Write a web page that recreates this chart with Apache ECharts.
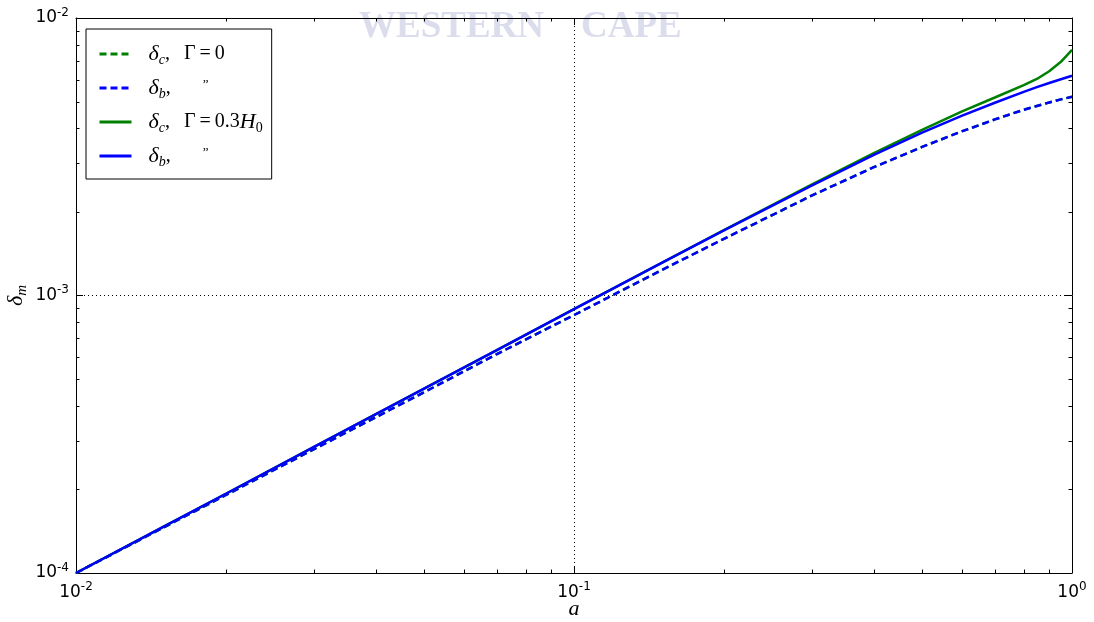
<!DOCTYPE html>
<html>
<head>
<meta charset="utf-8">
<script src="https://cdn.jsdelivr.net/npm/echarts@6/dist/echarts.min.js"></script>
<style>
  html, body { margin: 0; padding: 0; background: #fff; }
  #chart { width: 1094px; height: 622px; }
</style>
</head>
<body>
<div id="chart"></div>
<script>
// scale factor a
const scaleFactor = [0.01, 0.015, 0.02, 0.03, 0.05, 0.07, 0.1, 0.15, 0.2, 0.3, 0.4, 0.5, 0.6, 0.7, 0.8, 0.85, 0.9, 0.95, 1.0];

// density contrasts, no interaction (Γ = 0)
const deltaC0 = [1.00e-4, 1.46e-4, 1.91e-4, 2.79e-4, 4.48e-4, 6.15e-4, 8.50e-4, 1.235e-3, 1.60e-3, 2.29e-3, 2.90e-3, 3.43e-3, 3.90e-3, 4.31e-3, 4.67e-3, 4.82e-3, 4.96e-3, 5.09e-3, 5.20e-3];
const deltaB0 = [1.00e-4, 1.46e-4, 1.91e-4, 2.79e-4, 4.48e-4, 6.15e-4, 8.50e-4, 1.235e-3, 1.60e-3, 2.29e-3, 2.90e-3, 3.43e-3, 3.90e-3, 4.31e-3, 4.67e-3, 4.82e-3, 4.96e-3, 5.09e-3, 5.20e-3];

// density contrasts with decay rate Γ = 0.3 H0
const deltaCG = [1.00e-4, 1.47e-4, 1.93e-4, 2.84e-4, 4.62e-4, 6.36e-4, 8.93e-4, 1.31e-3, 1.72e-3, 2.51e-3, 3.26e-3, 3.95e-3, 4.60e-3, 5.17e-3, 5.73e-3, 6.03e-3, 6.43e-3, 6.95e-3, 7.67e-3];
const deltaBG = [1.00e-4, 1.47e-4, 1.93e-4, 2.84e-4, 4.62e-4, 6.36e-4, 8.93e-4, 1.31e-3, 1.716e-3, 2.49e-3, 3.21e-3, 3.86e-3, 4.44e-3, 4.95e-3, 5.42e-3, 5.635e-3, 5.83e-3, 6.015e-3, 6.19e-3];

const xRange = [0.01, 1];
const yRange = [1e-4, 1e-2];
const xMinorTicks = [0.02, 0.03, 0.04, 0.05, 0.06, 0.07, 0.08, 0.09, 0.2, 0.3, 0.4, 0.5, 0.6, 0.7, 0.8, 0.9];
const yMinorTicks = [2e-4, 3e-4, 4e-4, 5e-4, 6e-4, 7e-4, 8e-4, 9e-4, 2e-3, 3e-3, 4e-3, 5e-3, 6e-3, 7e-3, 8e-3, 9e-3];

const seriesNames = ['dc0', 'db0', 'dcG', 'dbG'];
const legendLabels = [
  '{gap|}{d|δ}{sub|c}{t|,\u2002\u2009Γ\u2009=\u20090}',
  '{gap|}{d|δ}{sub|b}{t|,}{q|”}',
  '{gap|}{d|δ}{sub|c}{t|,\u2002\u2009Γ\u2009=\u20090.3}{d|H}{sub0|0}',
  '{gap|}{d|δ}{sub|b}{t|,}{q|”}'
];

const GREEN = '#008000';
const BLUE = '#0000ff';
const serif = 'Liberation Serif';
const sans = 'DejaVu Sans';

function pairs(ys) {
  return scaleFactor.map((a, i) => [a, ys[i]]);
}

function powLabel(v) {
  return '{b|10}{s|' + Math.round(Math.log10(v)) + '}';
}

const tickRich = {
  b: { fontFamily: sans, fontSize: 17, color: '#000' },
  s: { fontFamily: sans, fontSize: 12, color: '#000', padding: [0, 0, 11, 0] }
};

const chart = echarts.init(document.getElementById('chart'), null, { renderer: 'canvas' });

function baseAxis(extra) {
  return Object.assign({
    type: 'log',
    logBase: 10,
    axisLine: { show: true, onZero: false, lineStyle: { color: '#000', width: 1 } },
    axisTick: { show: true, inside: true, length: 7, lineStyle: { color: '#000', width: 1 } },
    splitLine: { show: false },
    axisLabel: { show: false }
  }, extra);
}

function minorTickSeries(values, isX) {
  return {
    type: 'custom',
    silent: true,
    clip: false,
    z: 5,
    data: values.map(v => isX ? [v, yRange[0]] : [xRange[0], v]),
    renderItem(params, api) {
      const style = { stroke: '#000', lineWidth: 1 };
      let p1, p2, l1, l2;
      if (isX) {
        const v = api.value(0);
        p1 = api.coord([v, yRange[0]]);
        p2 = api.coord([v, yRange[1]]);
        const x = Math.round(p1[0]) + 0.5;
        l1 = { x1: x, y1: p1[1], x2: x, y2: p1[1] - 3.5 };
        l2 = { x1: x, y1: p2[1], x2: x, y2: p2[1] + 3.5 };
      } else {
        const v = api.value(1);
        p1 = api.coord([xRange[0], v]);
        p2 = api.coord([xRange[1], v]);
        const y = Math.round(p1[1]) + 0.5;
        l1 = { x1: p1[0], y1: y, x2: p1[0] + 3.5, y2: y };
        l2 = { x1: p2[0], y1: y, x2: p2[0] - 3.5, y2: y };
      }
      return {
        type: 'group',
        children: [
          { type: 'line', shape: l1, style },
          { type: 'line', shape: l2, style }
        ]
      };
    }
  };
}

function curve(name, ys, color, dashed) {
  return {
    name,
    type: 'line',
    data: pairs(ys),
    symbol: 'none',
    showSymbol: false,
    smooth: false,
    z: 3,
    itemStyle: { color },
    lineStyle: { color, width: 2.5, type: dashed ? [7, 4] : 'solid' }
  };
}

const option = {
  animation: false,
  backgroundColor: '#fff',
  grid: { left: 76, right: 22, top: 18, bottom: 49, containLabel: false, outerBoundsMode: 'none' },
  graphic: [{
    type: 'text',
    left: 359,
    top: 9,
    z: -10,
    silent: true,
    style: {
      text: 'WESTERN    CAPE',
      font: 'bold 37px "Liberation Serif"',
      fill: 'rgba(190, 193, 220, 0.55)'
    }
  }],
  legend: {
    data: seriesNames,
    orient: 'vertical',
    left: 86,
    top: 29,
    backgroundColor: '#fff',
    borderColor: '#000',
    borderWidth: 1,
    borderRadius: 0,
    padding: [14, 9, 10, 12],
    itemWidth: 32,
    itemHeight: 14,
    itemGap: 10,
    z: 10,
    itemStyle: { opacity: 0 },
    lineStyle: { width: 3 },
    formatter: name => legendLabels[seriesNames.indexOf(name)],
    textStyle: {
      color: '#000',
      rich: {
        gap: { width: 12 },
        d: { fontFamily: serif, fontStyle: 'italic', fontSize: 22, color: '#000' },
        sub: { fontFamily: serif, fontStyle: 'italic', fontSize: 14, color: '#000', padding: [12, 0, 0, 0] },
        sub0: { fontFamily: serif, fontSize: 14, color: '#000', padding: [12, 0, 0, 0] },
        t: { fontFamily: serif, fontSize: 20, color: '#000' },
        q: { fontFamily: serif, fontSize: 13, color: '#000', padding: [0, 0, 6, 32] }
      }
    }
  },
  xAxis: [
    baseAxis({
      position: 'bottom',
      min: xRange[0],
      max: xRange[1],
      splitLine: { show: true, lineStyle: { color: '#000', width: 1, type: [1, 3] } },
      axisLabel: { show: true, margin: 8, formatter: powLabel, rich: tickRich },
      name: 'a',
      nameLocation: 'middle',
      nameGap: 25,
      nameMoveOverlap: false,
      nameTextStyle: { fontFamily: serif, fontStyle: 'italic', fontSize: 22, color: '#000' }
    }),
    baseAxis({ position: 'top', min: xRange[0], max: xRange[1] })
  ],
  yAxis: [
    baseAxis({
      position: 'left',
      min: yRange[0],
      max: yRange[1],
      splitLine: { show: true, lineStyle: { color: '#000', width: 1, type: [1, 3] } },
      axisLabel: { show: true, margin: 7, formatter: powLabel, rich: tickRich },
      name: '{d|δ}{s|m}',
      nameLocation: 'middle',
      nameRotate: 90,
      nameGap: 46,
      nameMoveOverlap: false,
      nameTextStyle: {
        rich: {
          d: { fontFamily: serif, fontStyle: 'italic', fontSize: 22, color: '#000' },
          s: { fontFamily: serif, fontStyle: 'italic', fontSize: 15, color: '#000', padding: [12, 0, 0, 0] }
        }
      }
    }),
    baseAxis({ position: 'right', min: yRange[0], max: yRange[1] })
  ],
  series: [
    curve('dc0', deltaC0, GREEN, true),
    curve('db0', deltaB0, BLUE, true),
    curve('dcG', deltaCG, GREEN, false),
    curve('dbG', deltaBG, BLUE, false),
    minorTickSeries(xMinorTicks, true),
    minorTickSeries(yMinorTicks, false)
  ]
};

chart.setOption(option);
</script>
</body>
</html>
